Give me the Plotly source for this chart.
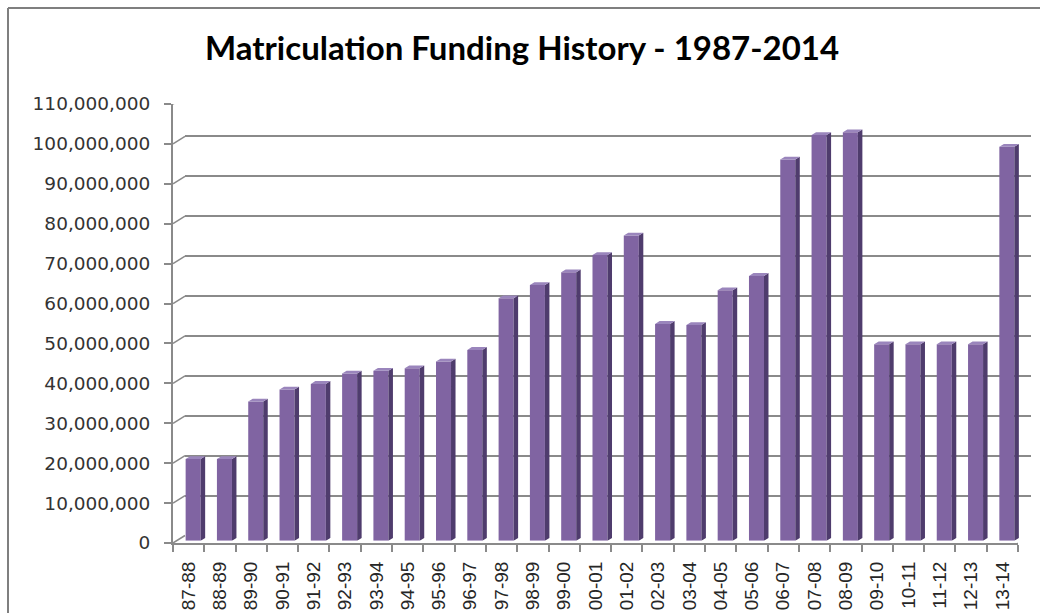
import plotly.graph_objects as go

# ---- data ----
categories = ["87-88", "88-89", "89-90", "90-91", "91-92", "92-93", "93-94", "94-95",
              "95-96", "96-97", "97-98", "98-99", "99-00", "00-01", "01-02", "02-03",
              "03-04", "04-05", "05-06", "06-07", "07-08", "08-09", "09-10", "10-11",
              "11-12", "12-13", "13-14"]
funding = [20.4e6, 20.4e6, 34.8e6, 37.8e6, 39.2e6, 41.8e6, 42.5e6, 43.1e6,
           44.8e6, 47.7e6, 60.6e6, 63.9e6, 67.1e6, 71.4e6, 76.3e6, 54.2e6,
           53.9e6, 62.6e6, 66.2e6, 95.3e6, 101.4e6, 102.1e6, 49.1e6, 49.1e6,
           49.1e6, 49.1e6, 98.5e6]
y_ticks = [i * 10_000_000 for i in range(12)]
title_text = "Matriculation Funding History - 1987-2014"

# ---- geometry helpers (pixels -> paper) ----
W, H = 1057, 613
def fx(p): return p / W
def fy(p): return 1 - p / H

n = len(categories)
idx = list(range(n))
YMAX = 110_000_000
GRAY = "#8a8a8a"

# 3-D depth offsets (in data units of the front axes)
cat_px = (1018 - 173) / n          # pixels per category
val_px = (543 - 104) / YMAX        # pixels per unit value
DX_BACK = 12 / cat_px
DY_BACK = 7.5 / val_px
BAR_W = 0.48
DXC = 4.5 / cat_px                 # bar depth (x)
DYV = 2.8 / val_px                 # bar depth (y)

fig = go.Figure()

# back-wall dummy trace so the x2/y2 subplot exists
fig.add_trace(go.Scatter(x=[None], y=[None], xaxis="x2", yaxis="y2",
                         showlegend=False, hoverinfo="skip"))

# connectors from the front axis to the back wall gridlines
cx, cy = [], []
for v in y_ticks:
    cx += [-0.5, -0.5 + DX_BACK, None]
    cy += [v, v + DY_BACK, None]
cx += [n - 0.5, n - 0.5 + DX_BACK, None]
cy += [0, DY_BACK, None]
fig.add_trace(go.Scatter(x=cx, y=cy, mode="lines", line=dict(color=GRAY, width=1.5),
                         xaxis="x", yaxis="y", showlegend=False, hoverinfo="skip",
                         cliponaxis=False))

# bars (front faces)
fig.add_trace(go.Bar(x=idx, y=funding, width=BAR_W, xaxis="x3", yaxis="y3",
                     marker=dict(color="#8064A2", line=dict(width=0)),
                     showlegend=False))

# side faces
sx, sy = [], []
for i, v in zip(idx, funding):
    xr = i + BAR_W / 2
    sx += [xr, xr + DXC, xr + DXC, xr, xr, None]
    sy += [0, DYV, v + DYV, v, 0, None]
fig.add_trace(go.Scatter(x=sx, y=sy, fill="toself", fillcolor="#4F3C6D", mode="lines",
                         line=dict(width=0, color="#4F3C6D"), xaxis="x3", yaxis="y3",
                         showlegend=False, hoverinfo="skip"))

# top faces
tx, ty = [], []
for i, v in zip(idx, funding):
    xl, xr = i - BAR_W / 2, i + BAR_W / 2
    tx += [xl, xr, xr + DXC, xl + DXC, xl, None]
    ty += [v, v, v + DYV, v + DYV, v, None]
fig.add_trace(go.Scatter(x=tx, y=ty, fill="toself", fillcolor="#9A85BC", mode="lines",
                         line=dict(width=0, color="#9A85BC"), xaxis="x3", yaxis="y3",
                         showlegend=False, hoverinfo="skip"))

fig.update_layout(
    width=W, height=H,
    margin=dict(l=0, r=0, t=0, b=0, pad=0, autoexpand=False),
    paper_bgcolor="white", plot_bgcolor="rgba(0,0,0,0)",
    showlegend=False,
    # front axes: labels, axis lines, ticks
    xaxis=dict(domain=[fx(173), fx(1018)], range=[-0.5, n - 0.5], anchor="y",
               automargin=False,
               tickmode="array", tickvals=idx, ticktext=categories, tickangle=-90,
               ticks="", showgrid=False, zeroline=False,
               showline=True, linecolor=GRAY, linewidth=2,
               tickfont=dict(family="Liberation Sans", size=19, color="#262626"),
               ticklabelstandoff=9,
               minor=dict(tickmode="linear", tick0=-0.5, dtick=1, ticks="outside",
                          ticklen=7, tickcolor=GRAY, tickwidth=2, showgrid=False)),
    yaxis=dict(domain=[fy(543), fy(104)], range=[0, YMAX], anchor="x",
               automargin=False,
               tickmode="array", tickvals=y_ticks, tickformat=",d",
               ticks="outside", ticklen=7, tickcolor=GRAY, tickwidth=2,
               showgrid=False, zeroline=False,
               showline=True, linecolor=GRAY, linewidth=2,
               tickfont=dict(family="DejaVu Sans", size=18.5, color="#333333"),
               ticklabelstandoff=10),
    # back wall: gridlines
    xaxis2=dict(domain=[fx(185), fx(1031)], range=[-0.5, n - 0.5], anchor="y2",
                automargin=False, visible=False),
    yaxis2=dict(domain=[fy(535.5), fy(96.5)], range=[0, YMAX], anchor="x2",
                automargin=False,
                tickmode="array", tickvals=y_ticks, showticklabels=False, ticks="",
                showgrid=True, gridcolor=GRAY, gridwidth=2, zeroline=False,
                showline=False),
    # bars plane
    xaxis3=dict(domain=[fx(177.5), fx(1022.5)], range=[-0.5, n - 0.5], anchor="y3",
                automargin=False, visible=False),
    yaxis3=dict(domain=[fy(540.7), fy(100.7)], range=[0, YMAX], anchor="x3",
                automargin=False, visible=False),
    annotations=[dict(text="<b>" + title_text + "</b>", xref="paper", yref="paper",
                      x=fx(522), y=fy(47), xanchor="center", yanchor="middle",
                      showarrow=False,
                      font=dict(family="Lato", size=33, color="#000000"))],
    shapes=[
        dict(type="line", xref="paper", yref="paper", x0=fx(8), x1=fx(1040),
             y0=fy(8), y1=fy(8), line=dict(color="#7f7f7f", width=2)),
        dict(type="line", xref="paper", yref="paper", x0=fx(8), x1=fx(8),
             y0=fy(8), y1=0, line=dict(color="#7f7f7f", width=2)),
    ],
)

fig.write_html(
    "out.html",
    config={"displayModeBar": False},
    post_script=(
        "document.documentElement.style.margin='0';"
        "document.documentElement.style.overflow='hidden';"
        "document.body.style.margin='0';"
        "document.body.style.padding='0';"
        "document.body.style.overflow='hidden';"
        "var d=document.getElementsByClassName('plotly-graph-div')[0];"
        "d.style.position='fixed';d.style.top='0px';d.style.left='0px';"
    ),
)
